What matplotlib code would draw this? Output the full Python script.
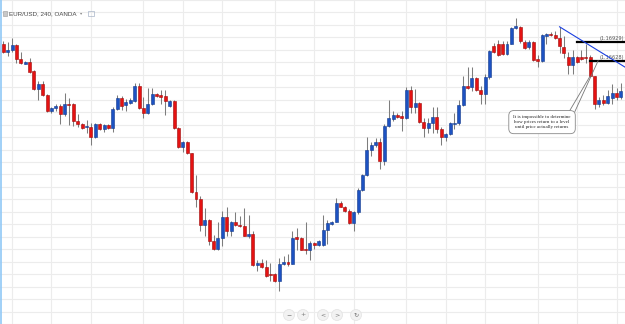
import numpy as np
import matplotlib.pyplot as plt
from matplotlib.patches import Ellipse, Rectangle
from matplotlib.lines import Line2D

# EUR/USD 4h свічки (ціни)
opens = [1.16895, 1.16760, 1.16805, 1.16880, 1.16655, 1.16580, 1.16610, 1.16460, 1.16175, 1.16250,
         1.16070, 1.15815, 1.15860, 1.15905, 1.15770, 1.15935, 1.15935, 1.15665, 1.15605, 1.15560,
         1.15560, 1.15395, 1.15605, 1.15530, 1.15590, 1.15545, 1.15845, 1.16025, 1.15920, 1.15950,
         1.15980, 1.16220, 1.15860, 1.15785, 1.15935, 1.16085, 1.16070, 1.16055, 1.15905, 1.15980,
         1.15545, 1.15245, 1.15320, 1.15140, 1.14525, 1.14405, 1.13985, 1.14075, 1.13730, 1.13610,
         1.13775, 1.14120, 1.13895, 1.14045, 1.13985, 1.13970, 1.13820, 1.13850, 1.13340, 1.13385,
         1.13310, 1.13205, 1.13205, 1.13085, 1.13355, 1.13400, 1.13370, 1.13790, 1.13775, 1.13610,
         1.13595, 1.13700, 1.13670, 1.13670, 1.13910, 1.14000, 1.14045, 1.14345, 1.14285, 1.14210,
         1.14015, 1.14195, 1.14555, 1.14795, 1.15200, 1.15275, 1.15320, 1.15020, 1.15575, 1.15695,
         1.15755, 1.15740, 1.15710, 1.16160, 1.15875, 1.15950, 1.15635, 1.15545, 1.15620, 1.15725,
         1.15530, 1.15395, 1.15455, 1.15605, 1.15620, 1.15920, 1.16220, 1.16205, 1.16355, 1.16160,
         1.16085, 1.16370, 1.16865, 1.16895, 1.16895, 1.16730, 1.16895, 1.17150, 1.17165, 1.16925,
         1.16850, 1.16925, 1.16655, 1.16625, 1.17030, 1.17060, 1.17045, 1.16985, 1.16850, 1.16685,
         1.16550, 1.16685, 1.16685, 1.16685, 1.16685, 1.16385, 1.15935, 1.15995, 1.15950, 1.16025,
         1.16100, 1.16040]
highs = [1.16940, 1.16925, 1.16985, 1.16895, 1.16760, 1.16625, 1.16670, 1.16475, 1.16295, 1.16295,
         1.16085, 1.15890, 1.15935, 1.15935, 1.16100, 1.16025, 1.15950, 1.15770, 1.15620, 1.15680,
         1.15620, 1.15620, 1.15620, 1.15605, 1.15605, 1.15875, 1.16070, 1.16055, 1.16010, 1.16025,
         1.16265, 1.16265, 1.16040, 1.16190, 1.16190, 1.16115, 1.16160, 1.16160, 1.15995, 1.15995,
         1.15560, 1.15335, 1.15335, 1.15140, 1.14795, 1.14450, 1.14255, 1.14090, 1.13835, 1.14030,
         1.14210, 1.14285, 1.14060, 1.14195, 1.14135, 1.14255, 1.14150, 1.13895, 1.13430, 1.13445,
         1.13430, 1.13385, 1.13220, 1.13460, 1.13490, 1.13520, 1.13895, 1.13940, 1.13790, 1.14045,
         1.13730, 1.13715, 1.13745, 1.14150, 1.14075, 1.14060, 1.14420, 1.14375, 1.14300, 1.14240,
         1.14210, 1.14585, 1.14810, 1.15395, 1.15320, 1.15380, 1.15380, 1.15605, 1.15995, 1.15815,
         1.15785, 1.15815, 1.16205, 1.16220, 1.16175, 1.15965, 1.15710, 1.15710, 1.15875, 1.15890,
         1.15560, 1.15470, 1.15635, 1.15785, 1.15995, 1.16385, 1.16520, 1.16520, 1.16370, 1.16220,
         1.16415, 1.16790, 1.16910, 1.16955, 1.16940, 1.16940, 1.17165, 1.17315, 1.17180, 1.16955,
         1.16955, 1.16940, 1.16715, 1.17060, 1.17075, 1.17090, 1.17105, 1.17165, 1.17030, 1.16760,
         1.16805, 1.16700, 1.16790, 1.16895, 1.16715, 1.16385, 1.16040, 1.16070, 1.16160, 1.16250,
         1.16190, 1.16265]
lows = [1.16745, 1.16700, 1.16760, 1.16595, 1.16565, 1.16565, 1.16430, 1.16160, 1.15995, 1.16055,
        1.15800, 1.15785, 1.15815, 1.15605, 1.15740, 1.15590, 1.15575, 1.15560, 1.15530, 1.15470,
        1.15275, 1.15380, 1.15515, 1.15485, 1.15530, 1.15485, 1.15830, 1.15830, 1.15815, 1.15935,
        1.15965, 1.15845, 1.15710, 1.15770, 1.15920, 1.16040, 1.15935, 1.15755, 1.15890, 1.15530,
        1.15230, 1.15155, 1.15125, 1.14510, 1.14285, 1.13895, 1.13820, 1.13670, 1.13595, 1.13595,
        1.13655, 1.13805, 1.13820, 1.13970, 1.13955, 1.13805, 1.13775, 1.13325, 1.13250, 1.13295,
        1.13160, 1.13085, 1.13070, 1.12935, 1.13340, 1.13325, 1.13355, 1.13595, 1.13580, 1.13520,
        1.13430, 1.13610, 1.13655, 1.13655, 1.13685, 1.13985, 1.14030, 1.14270, 1.14195, 1.14000,
        1.13895, 1.14165, 1.14540, 1.14780, 1.15095, 1.15245, 1.14885, 1.14945, 1.15560, 1.15665,
        1.15710, 1.15500, 1.15695, 1.15785, 1.15785, 1.15620, 1.15395, 1.15470, 1.15470, 1.15470,
        1.15275, 1.15335, 1.15440, 1.15530, 1.15590, 1.15905, 1.16175, 1.16145, 1.16145, 1.15935,
        1.15935, 1.16340, 1.16745, 1.16700, 1.16715, 1.16715, 1.16895, 1.17135, 1.16910, 1.16820,
        1.16820, 1.16625, 1.16520, 1.16610, 1.16895, 1.17030, 1.16970, 1.16745, 1.16670, 1.16415,
        1.16415, 1.16595, 1.16640, 1.16595, 1.16370, 1.15845, 1.15875, 1.15920, 1.15935, 1.15935,
        1.15995, 1.16010]
closes = [1.16760, 1.16805, 1.16880, 1.16655, 1.16595, 1.16610, 1.16445, 1.16175, 1.16250, 1.16070,
          1.15815, 1.15860, 1.15905, 1.15770, 1.15935, 1.15920, 1.15665, 1.15605, 1.15545, 1.15565,
          1.15395, 1.15605, 1.15530, 1.15590, 1.15545, 1.15845, 1.16025, 1.15905, 1.15965, 1.15995,
          1.16220, 1.15860, 1.15785, 1.15935, 1.16085, 1.16055, 1.16040, 1.15980, 1.15980, 1.15545,
          1.15245, 1.15320, 1.15140, 1.14525, 1.14405, 1.13985, 1.14075, 1.13730, 1.13610, 1.13775,
          1.14120, 1.13895, 1.14045, 1.13985, 1.13970, 1.13820, 1.13850, 1.13340, 1.13385, 1.13310,
          1.13175, 1.13190, 1.13085, 1.13370, 1.13400, 1.13370, 1.13775, 1.13760, 1.13595, 1.13595,
          1.13700, 1.13670, 1.13730, 1.13910, 1.14015, 1.14045, 1.14345, 1.14285, 1.14210, 1.14015,
          1.14195, 1.14555, 1.14795, 1.15200, 1.15275, 1.15320, 1.15020, 1.15575, 1.15710, 1.15755,
          1.15725, 1.15710, 1.16160, 1.15875, 1.15950, 1.15635, 1.15545, 1.15620, 1.15725, 1.15530,
          1.15395, 1.15455, 1.15620, 1.15620, 1.15920, 1.16220, 1.16190, 1.16355, 1.16160, 1.16085,
          1.16370, 1.16775, 1.16760, 1.16715, 1.16730, 1.16895, 1.17150, 1.17180, 1.16940, 1.16835,
          1.16925, 1.16640, 1.16625, 1.17045, 1.17060, 1.17045, 1.16985, 1.16865, 1.16745, 1.16550,
          1.16685, 1.16610, 1.16655, 1.16670, 1.16385, 1.15935, 1.15995, 1.15950, 1.16055, 1.16100,
          1.16040, 1.16145]

# вертикальна сітка (індекси свічок) та рівні
grid_idx = [2, 11, 20, 32, 41, 50, 62, 71, 80, 92, 101, 110, 122, 131, 140]
level_hi, level_hi_start = 1.16929, 131
level_lo, level_lo_start = 1.16628, 134
trend_x = [127, 142]
trend_y = [1.1717, 1.1652]
note = "It is impossible to determine\nhow prices return to a level\nuntil price actually returns"
note_pos = (123, 1.1564)
pointer_a = ([129.2, 133.9], [1.15810, 1.1637])
pointer_b = ([130.5, 135.8], [1.15810, 1.16625])

o = np.array(opens); h = np.array(highs); l = np.array(lows); c = np.array(closes)
x = np.arange(len(o))
up = c >= o

fig = plt.figure(figsize=(6.25, 3.24), dpi=100)
ax = fig.add_axes([0, 0, 1, 1])
ax.set_xlim(-0.75, 141.94)
ax.set_ylim(1.1268, 1.1754)
ax.set_xticks(grid_idx)
ax.set_yticks(np.arange(1.124, 1.178, 0.002))
ax.grid(color='#ececec', lw=0.8)
ax.tick_params(length=0, labelbottom=False, labelleft=False)
for s in ax.spines.values():
    s.set_visible(False)
ax.set_axisbelow(True)

# свічки
ax.vlines(x, l, h, color='#7d7d7d', lw=0.75, zorder=2)
bottom = np.minimum(o, c)
height = np.maximum(np.abs(c - o), 0.00012)
ax.bar(x[up], height[up], 0.68, bottom[up], color='#1d52c2', edgecolor='#123a8c', lw=0.4, zorder=3)
ax.bar(x[~up], height[~up], 0.68, bottom[~up], color='#e51212', edgecolor='#9e0a0a', lw=0.4, zorder=3)

# рівні та трендова лінія
ax.plot([level_hi_start, 142], [level_hi, level_hi], color='black', lw=1.6, zorder=4)
ax.plot([level_lo_start, 142], [level_lo, level_lo], color='black', lw=1.6, zorder=4)
ax.text(141.7, level_hi + 0.00012, '(1.16929)', ha='right', va='bottom', fontsize=3.6, color='#555555')
ax.text(141.7, level_lo + 0.00012, '(1.16628)', ha='right', va='bottom', fontsize=3.6, color='#555555')
ax.plot(trend_x, trend_y, color='#1a3fe0', lw=0.8, zorder=4)

# виноска
ax.plot(*pointer_a, color='#777777', lw=0.6, zorder=4)
ax.plot(*pointer_b, color='#777777', lw=0.6, zorder=4)
ax.text(note_pos[0], note_pos[1], note, ha='center', va='center', fontsize=3.6,
        family='Liberation Serif', linespacing=1.35, color='#222222', zorder=5,
        bbox=dict(boxstyle='round,pad=0.9,rounding_size=1.0', fc='white', ec='#888888', lw=0.6))

# заголовок
fig.add_artist(Rectangle((3 / 625, 1 - 16 / 324), 4 / 625, 5 / 324, transform=fig.transFigure,
                         fc='#c8c8c8', ec='#9a9a9a', lw=0.4))
fig.text(9 / 625, 1 - 13.5 / 324, 'EUR/USD, 240, OANDA', fontsize=4.5, family='Liberation Sans',
         color='#4a4a4a', va='center')
fig.text(80 / 625, 1 - 13.5 / 324, '▾', fontsize=3.2, color='#888888', va='center')
fig.add_artist(Rectangle((88 / 625, 1 - 16 / 324), 6 / 625, 5 / 324, transform=fig.transFigure,
                         fc='none', ec='#a8b4c8', lw=0.5))

# ліва смуга
fig.add_artist(Line2D([0.0012, 0.0012], [0, 1], transform=fig.transFigure, color='#90c8f6', lw=1.2))

# кнопки навігації
for bx, sym in zip([289, 303, 323, 337, 356], ['−', '+', '<', '>', '↻']):
    fig.add_artist(Ellipse((bx / 625, 1 - 315 / 324), 11 / 625, 11 / 324, transform=fig.transFigure,
                           fc='#f2f2f2', ec='#e2e2e2', lw=0.5))
    fig.text(bx / 625, 1 - 315 / 324, sym, ha='center', va='center', fontsize=4.5, color='#777777')

plt.savefig('out.png', dpi=100)
